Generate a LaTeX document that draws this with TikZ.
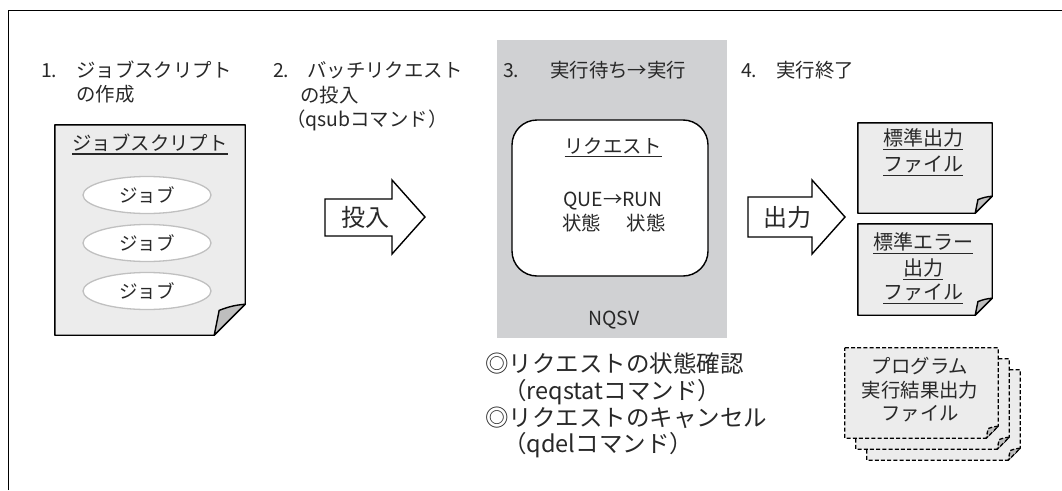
\documentclass[tikz,border=0pt]{standalone}
\usepackage{fontspec}
\setmainfont{Noto Sans CJK JP}
\usetikzlibrary{positioning,shapes.geometric}

\definecolor{panelgray}{RGB}{208,209,211}
\definecolor{docgray}{RGB}{236,236,236}
\definecolor{foldgray}{RGB}{190,190,190}
\definecolor{ovalline}{RGB}{192,192,192}
\definecolor{ink}{RGB}{40,40,40}

% underlined text
\newcommand{\ul}[1]{\vtop{\hbox{#1}\kern1.8pt\hrule height 1.1pt}}
% sheet of paper with a turned corner, drawn round an empty node
\newcommand{\paper}[3][]{%
  \filldraw[paperline, #1] (#2.north west) -- (#2.north east) -- ([yshift=#3]#2.south east)
    -- ([xshift=-#3]#2.south east) -- (#2.south west) -- cycle;
  \filldraw[paperline, fill=foldgray, #1] ([yshift=#3]#2.south east) to[bend right=8]
    ([xshift=-0.84*#3, yshift=0.8*#3]#2.south east) -- ([xshift=-#3]#2.south east) -- cycle;
}

\begin{document}
\begin{tikzpicture}[x=1pt, y=-1pt,
            every node/.style={inner sep=0pt, text=ink},
            head/.style={font=\fontsize{19.4}{24}\selectfont, anchor=west, text height=17pt, text depth=2.3pt},
            note/.style={font=\fontsize{23.5}{28}\selectfont, anchor=west, text height=20.7pt, text depth=2.8pt},
            label/.style={font=\fontsize{20}{25}\selectfont, text height=17.6pt, text depth=2.4pt},
            doc/.style={rectangle, inner sep=0pt},
            paperline/.style={draw=black, line width=1.4pt, fill=docgray, line join=round},
            dashpaper/.style={dashed, dash pattern=on 4pt off 2.2pt, line width=1.3pt},
            job/.style={ellipse, draw=ovalline, line width=1.3pt, fill=white, minimum width=128pt,
                minimum height=37pt, font=\fontsize{18.5}{22}\selectfont},
            reqbox/.style={rectangle, rounded corners=25pt, draw=black, line width=1.4pt, fill=white},
            bigarrow/.style={draw=black, line width=1.4pt, fill=white, line join=miter},
            frame/.style={draw=black, line width=1.6pt}
        ]
        \useasboundingbox (0,0) rectangle (1062,490);
        \draw[frame] (8.5,490) -- (8.5,10.5) -- (1062,10.5);

        % NQSV panel
        \node[doc, fill=panelgray, minimum width=230pt, minimum height=298pt] (nqsv) at (612,189) {};
        \node[head, anchor=center] (nqsvname) at (614,318) {NQSV};

        % Step headings
        \node[head] (step1) at (41,70) {1.};
        \node[head] (step1a) at (76,70) {ジョブスクリプト};
        \node[head] (step1b) at (76,94) {の作成};
        \node[head] (step2) at (273,70) {2.};
        \node[head] (step2a) at (307,70) {バッチリクエスト};
        \node[head] (step2b) at (300,95) {の投入};
        \node[head] (step2c) at (286,119) {（qsubコマンド）};
        \node[head] (step3) at (503,70) {3.};
        \node[head] (step3a) at (550,70) {実行待ち→実行};
        \node[head] (step4) at (741,70) {4.};
        \node[head] (step4a) at (776,70) {実行終了};

        % Job script
        \node[doc, minimum width=190pt, minimum height=210pt] (script) at (150,230) {};
        \paper{script}{31pt}
        \node[label, font=\fontsize{19.4}{24}\selectfont] (scripttitle) at (150,143) {\ul{ジョブスクリプト}};
        \foreach \i/\y in {1/195,2/243,3/291}
            \node[job] (job\i) at (147,\y) {ジョブ};

        % Submit arrow
        \draw[bigarrow] (325,199) -- (392,199) -- (392,180) -- (425,217) -- (392,254) -- (392,236) -- (325,236) -- cycle;
        \node[font=\fontsize{24}{28}\selectfont] (submit) at (365,217) {投入};

        % Request box
        \node[reqbox, minimum width=196pt, minimum height=156pt] (req) at (610,198) {};
        \node[label, font=\fontsize{19.4}{24}\selectfont] (reqtitle) at (613,146) {\ul{リクエスト}};
        \node[label, font=\fontsize{19.4}{24}\selectfont] (reqstate) at (613,199) {QUE→RUN};
        \node[label, font=\fontsize{19.4}{24}\selectfont] (reqstate2) at (614,223) {状態\hspace{1.3em}状態};

        % Output arrow
        \draw[bigarrow] (748,197) -- (812,197) -- (812,180) -- (845,217) -- (812,254) -- (812,237) -- (748,237) -- cycle;
        \node[font=\fontsize{24}{28}\selectfont] (output) at (787,217) {出力};

        % Output files
        \node[doc, minimum width=134pt, minimum height=90pt] (stdout) at (925,168) {};
        \paper{stdout}{17pt}
        \node[label] (stdout1) at (923,138) {\ul{標準出力}};
        \node[label] (stdout2) at (923,164) {\ul{ファイル}};
        \node[doc, minimum width=134pt, minimum height=91pt] (stderr) at (925,269.5) {};
        \paper{stderr}{17pt}
        \node[label] (stderr1) at (923,242) {\ul{標準エラー}};
        \node[label] (stderr2) at (923,268) {\ul{出力}};
        \node[label] (stderr3) at (923,292) {\ul{ファイル}};

        % Program result files (stack)
        \foreach \k in {2,1,0} {
            \node[doc, minimum width=153pt, minimum height=90pt] (prog\k) at (921.5+11*\k,393+11*\k) {};
            \paper[dashpaper]{prog\k}{12pt}
        }
        \node[label, text height=, text depth=, align=center, font=\fontsize{19.4}{23.5}\selectfont] (progtext) at (920,390) {プログラム\\実行結果出力\\ファイル};

        % Commands
        \node[note] (note1) at (485,364) {◎リクエストの状態確認};
        \node[note] (note2) at (503,391) {（reqstatコマンド）};
        \node[note] (note3) at (485,418) {◎リクエストのキャンセル};
        \node[note] (note4) at (503,444) {（qdelコマンド）};

        \end{tikzpicture}
\end{document}
